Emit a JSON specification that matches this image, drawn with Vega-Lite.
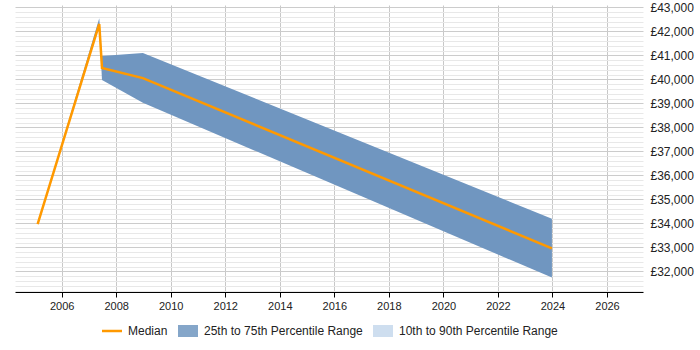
{
  "$schema": "https://vega.github.io/schema/vega-lite/v6.json",
  "autosize": "none",
  "width": 628,
  "height": 287,
  "padding": {"left": 15, "top": 5, "right": 57, "bottom": 58},
  "background": "white",
  "config": {
    "view": {"stroke": null},
    "font": "Liberation Sans"
  },
  "data": {
    "values": [
      {"year": 2005.12, "median": 33970, "p25": 33970, "p75": 33970},
      {"year": 2007.38, "median": 42305, "p25": 42250, "p75": 42540},
      {"year": 2007.48, "median": 40475, "p25": 39976, "p75": 40975},
      {"year": 2008.98, "median": 40050, "p25": 39020, "p75": 41100},
      {"year": 2023.98, "median": 32958, "p25": 31740, "p75": 34194}
    ]
  },
  "encoding": {
    "x": {
      "field": "year",
      "type": "quantitative",
      "scale": {"domain": [2004.29, 2027.32], "nice": false, "zero": false},
      "axis": {
        "values": [2006, 2008, 2010, 2012, 2014, 2016, 2018, 2020, 2022, 2024, 2026],
        "format": "d",
        "title": null,
        "grid": true,
        "gridColor": "#c8c8c8",
        "domainColor": "#000000",
        "tickColor": "#000000",
        "tickSize": 5,
        "labelFontSize": 11,
        "labelColor": "#222222",
        "labelPadding": 3
      }
    }
  },
  "layer": [
    {
      "mark": {"type": "area", "opacity": 1},
      "encoding": {
        "y": {
          "field": "p75",
          "type": "quantitative",
          "scale": {"domain": [31140, 43096], "nice": false, "zero": false},
          "axis": {
            "orient": "right",
            "title": null,
            "tickCount": 200,
            "values": [31200,31400,31600,31800,32000,32200,32400,32600,32800,33000,33200,33400,33600,33800,34000,34200,34400,34600,34800,35000,35200,35400,35600,35800,36000,36200,36400,36600,36800,37000,37200,37400,37600,37800,38000,38200,38400,38600,38800,39000,39200,39400,39600,39800,40000,40200,40400,40600,40800,41000,41200,41400,41600,41800,42000,42200,42400,42600,42800,43000],
            "labelExpr": "datum.value % 1000 === 0 ? '£' + format(datum.value, ',') : ''",
            "labelOverlap": false,
            "labelBound": false,
            "grid": true,
            "gridColor": {"condition": {"test": "datum.value % 1000 === 0", "value": "#cccccc"}, "value": "#e8e8e8"},
            "domain": false,
            "ticks": false,
            "labelFontSize": 12,
            "labelColor": "#222222",
            "labelPadding": 7
          }
        },
        "y2": {"field": "p25"},
        "color": {
          "datum": "25th to 75th Percentile Range",
          "type": "nominal",
          "scale": {
            "domain": ["Median", "25th to 75th Percentile Range", "10th to 90th Percentile Range"],
            "range": ["#ff9900", "#7096c0", "#c6d8ec"]
          },
          "legend": {
            "title": null,
            "orient": "none",
            "direction": "horizontal",
            "legendX": 91,
            "legendY": 320,
            "labelFontSize": 12,
            "labelColor": "#222222",
            "symbolSize": 400,
            "symbolType": {"expr": "datum.value === 'Median' ? 'M-1,0H1' : 'M-1,-0.6H1V0.6H-1Z'"},
            "symbolStrokeWidth": {"expr": "datum.value === 'Median' ? 2.5 : 0"},
            "symbolStrokeColor": {"expr": "scale('color', datum.value)"},
            "symbolFillColor": {"expr": "scale('color', datum.value)"},
            "symbolOpacity": {"expr": "datum.value === 'Median' ? 1 : 0.85"},
            "columnPadding": 10,
            "labelOffset": 10
          }
        }
      }
    },
    {
      "mark": {"type": "line", "strokeWidth": 2.5},
      "encoding": {
        "y": {"field": "median", "type": "quantitative"},
        "color": {"datum": "Median", "type": "nominal", "legend": null}
      }
    }
  ]
}
